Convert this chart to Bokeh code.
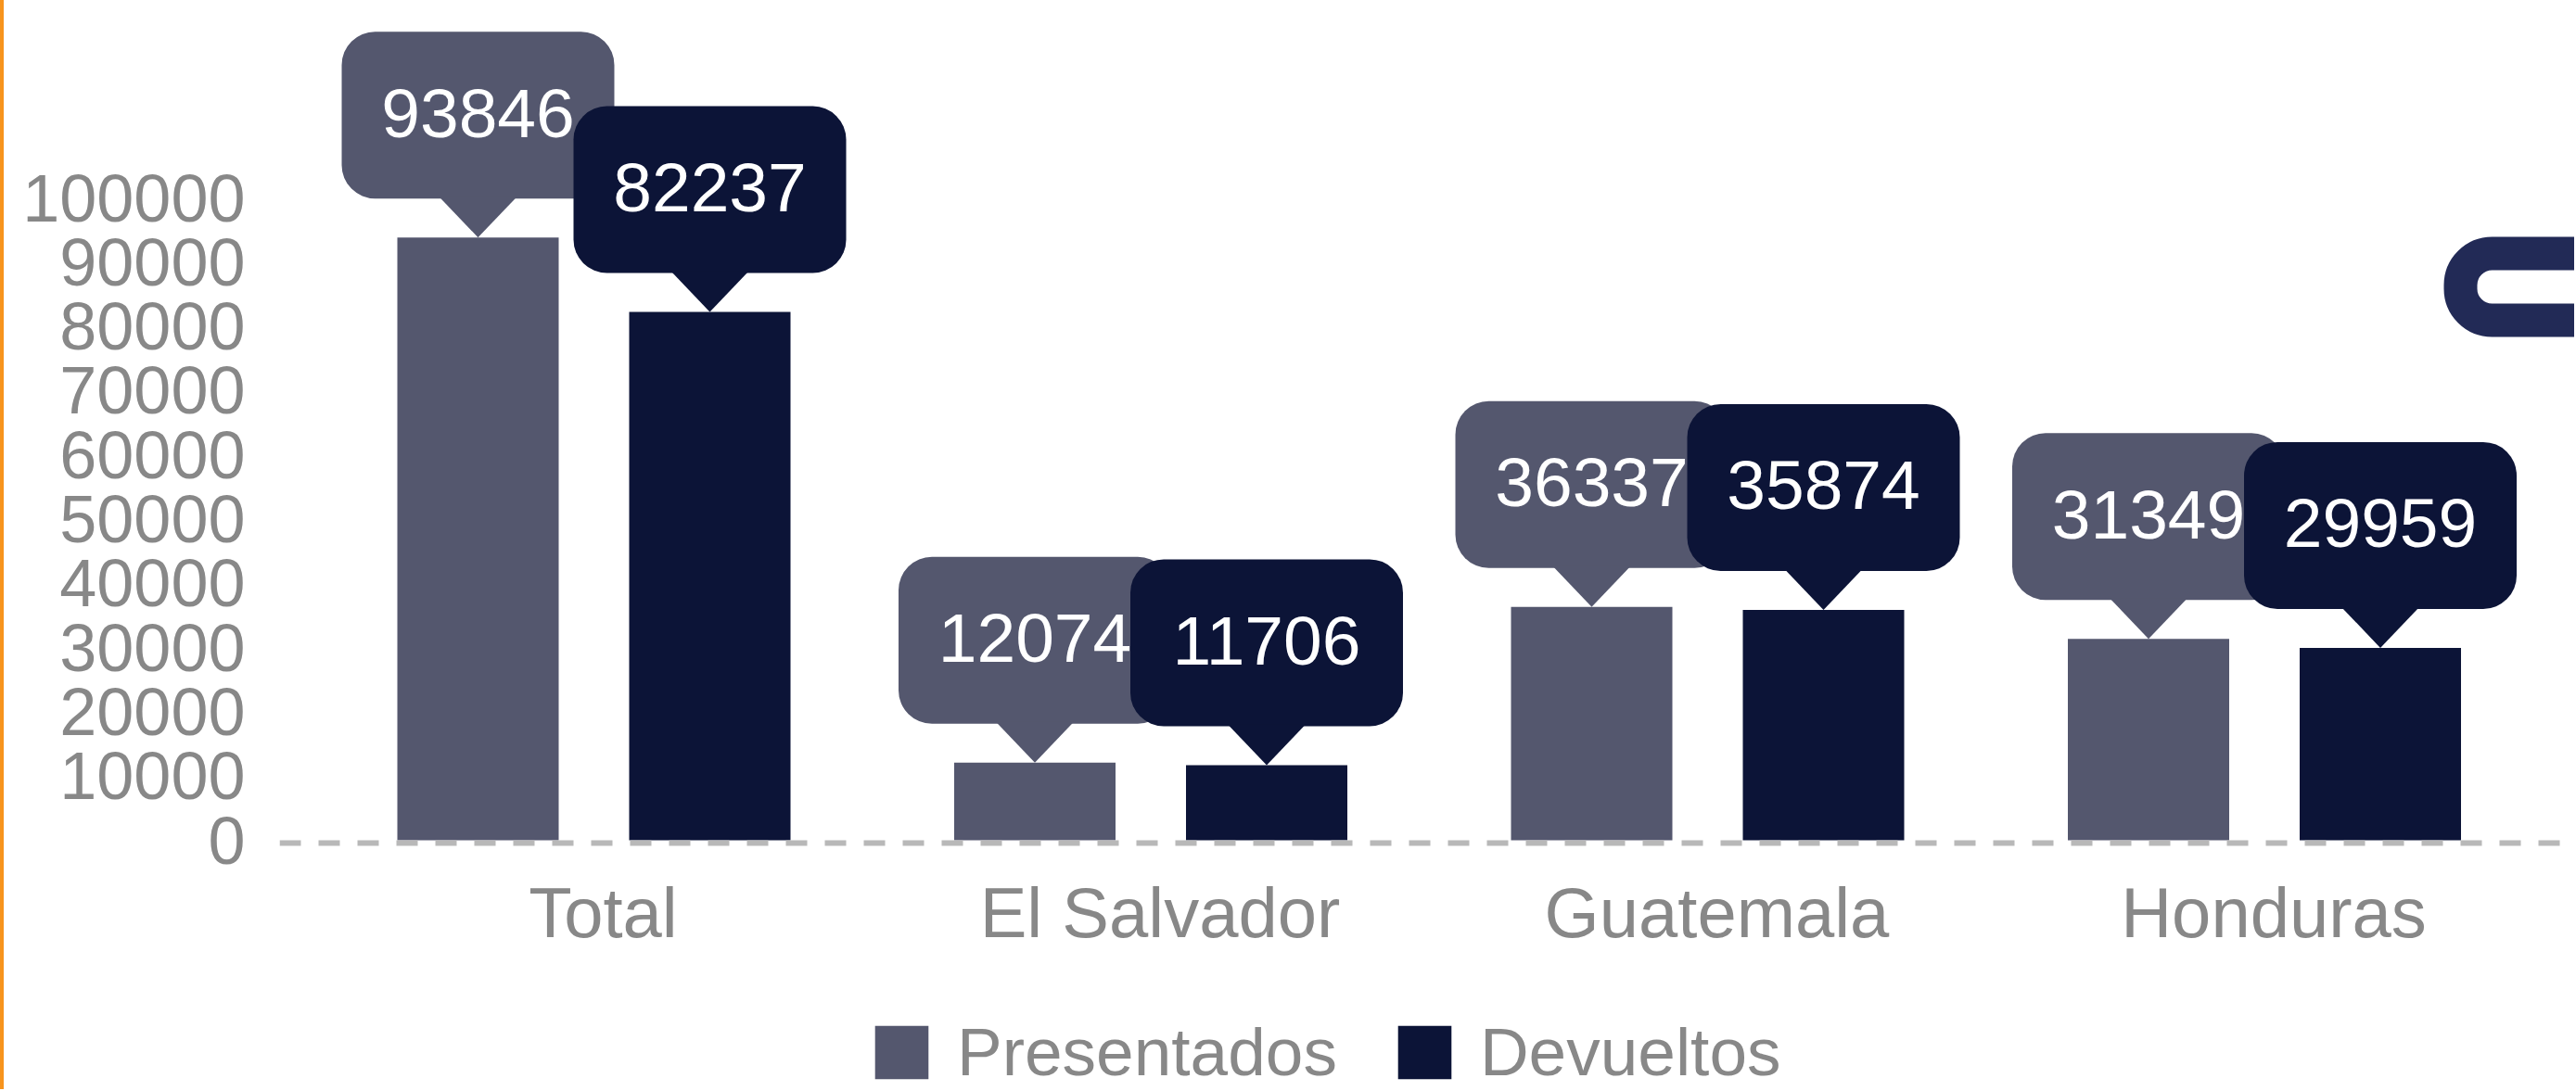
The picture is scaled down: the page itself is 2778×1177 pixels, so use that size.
from bokeh.plotting import figure
from bokeh.models import (Range1d, Span, Legend, LegendItem, FixedTicker, AllLabels,
                          NumeralTickFormatter, Spacer)
from bokeh.layouts import row
from bokeh.embed import file_html
from bokeh.resources import INLINE
from bokeh.core.properties import value

# ---------------- data ----------------
categories = ["Total", "El Salvador", "Guatemala", "Honduras"]
presentados = [93846, 12074, 36337, 31349]
devueltos = [82237, 11706, 35874, 29959]
y_ticks = [0, 10000, 20000, 30000, 40000, 50000, 60000, 70000, 80000, 90000, 100000]
series_names = ["Presentados", "Devueltos"]

# ---------------- style / layout ----------------
PRES_COLOR = "#54576e"
DEV_COLOR = "#0c1437"
GRAY = "#888888"
FONT = "Liberation Sans"

STRIPE = 4
W, H = 2772, 1175
LEFT = 297
BASE_Y = 906                  # pixel row of the zero line (from top)
FRAME_H = H
FRAME_W = W - LEFT
PX_PER_CAT = 600.5
PX_PER_10K = 69.3
UPP = 10000 / PX_PER_10K      # y data units per pixel
XPP = 1.0 / PX_PER_CAT        # x data units per pixel

y_lo = -(FRAME_H - BASE_Y) * UPP
y_hi = BASE_Y * UPP
x_lo = -339 * XPP
x_hi = x_lo + FRAME_W * XPP

p = figure(width=W, height=H, output_backend="svg", toolbar_location=None,
           x_range=Range1d(x_lo, x_hi), y_range=Range1d(y_lo, y_hi),
           min_border_left=LEFT, min_border_right=0, min_border_top=0,
           min_border_bottom=0)
p.outline_line_color = None
p.background_fill_color = "white"
p.border_fill_color = "white"
p.xgrid.visible = False
p.ygrid.visible = False

idx = list(range(len(categories)))
off = 125 * XPP
bw = 174 * XPP
x_pres = [i - off for i in idx]
x_dev = [i + off for i in idx]

# baseline dashed line
p.add_layout(Span(location=-3 * UPP, dimension="width", line_color="#b8b8b8",
                  line_width=6, line_dash="23 19"))

r_pres = p.vbar(x=x_pres, top=presentados, bottom=0, width=bw,
                fill_color=PRES_COLOR, line_color=None)
r_dev = p.vbar(x=x_dev, top=devueltos, bottom=0, width=bw,
               fill_color=DEV_COLOR, line_color=None)


def callout(xs, vals, color):
    p.vbar(x=xs, bottom=[v + 42 * UPP for v in vals], top=[v + 222 * UPP for v in vals],
           width=294 * XPP, fill_color=color, line_color=None, border_radius=36)
    p.patches(xs=[[x - 42 * XPP, x + 42 * XPP, x] for x in xs],
              ys=[[v + 44 * UPP, v + 44 * UPP, v] for v in vals],
              fill_color=color, line_color=None)
    p.text(x=xs, y=[v + 134 * UPP for v in vals], text=[str(v) for v in vals],
           text_align="center", text_baseline="middle", text_color="white",
           text_font=value(FONT), text_font_size="75px")


callout(x_pres, presentados, PRES_COLOR)
callout(x_dev, devueltos, DEV_COLOR)

# decorative partial logo at the right edge
p.quad(left=[(2653 - 640) * XPP], right=[x_hi + 1], top=[(BASE_Y - 273) * UPP],
       bottom=[(BASE_Y - 345) * UPP], fill_alpha=0, line_color="#222a56",
       line_width=36, border_radius=34)

# axes
p.yaxis.ticker = FixedTicker(ticks=y_ticks)
p.yaxis.formatter = NumeralTickFormatter(format="0")
p.yaxis.major_label_policy = AllLabels()
p.yaxis.major_label_text_font = FONT
p.yaxis.major_label_text_font_size = "72px"
p.yaxis.major_label_text_color = GRAY
p.yaxis.axis_line_color = None
p.yaxis.major_tick_line_color = None
p.yaxis.minor_tick_line_color = None
p.yaxis.major_tick_out = 0
p.yaxis.major_tick_in = 0
p.yaxis.major_label_standoff = 37

label_shift = 10 * XPP
xticks = [i + label_shift for i in idx]
p.xaxis.fixed_location = 0
p.xaxis.ticker = FixedTicker(ticks=xticks)
p.xaxis.major_label_overrides = {t: c for t, c in zip(xticks, categories)}
p.xaxis.major_label_policy = AllLabels()
p.xaxis.major_label_text_font = FONT
p.xaxis.major_label_text_font_size = "76px"
p.xaxis.major_label_text_color = GRAY
p.xaxis.axis_line_color = None
p.xaxis.major_tick_line_color = None
p.xaxis.minor_tick_line_color = None
p.xaxis.major_tick_out = 0
p.xaxis.major_tick_in = 0
p.xaxis.major_label_standoff = 35

legend = Legend(items=[LegendItem(label=series_names[0], renderers=[r_pres]),
                       LegendItem(label=series_names[1], renderers=[r_dev])],
                orientation="horizontal", location=(635, -1),
                glyph_width=72, glyph_height=72, label_height=72,
                label_standoff=24, spacing=58, padding=0, margin=0,
                border_line_color=None, background_fill_alpha=0,
                label_text_font=FONT, label_text_font_size="73px",
                label_text_color=GRAY)
p.add_layout(legend)

stripe = Spacer(width=STRIPE, height=H, styles={"background-color": "#f7941d"})
layout = row(stripe, p)

open("out.html", "w").write(file_html(layout, INLINE))
